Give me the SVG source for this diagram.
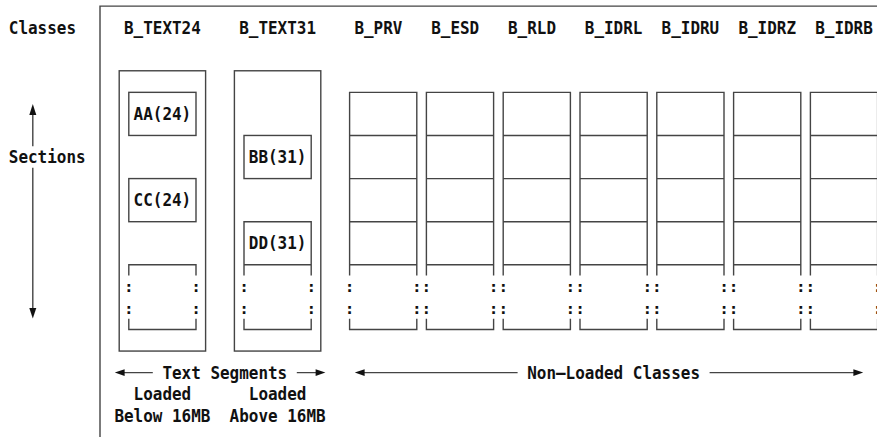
<svg xmlns="http://www.w3.org/2000/svg" width="877" height="437" viewBox="0 0 877 437">
<style>
.ln{fill:none;stroke:#444;stroke-width:1.4}
.t{font-family:"DejaVu Sans Mono","Liberation Mono",monospace;font-weight:bold;font-size:17px;fill:#111}
.c{font-family:"DejaVu Sans Mono","Liberation Mono",monospace;font-weight:bold;font-size:16px;fill:#111;text-anchor:middle}
.ah{fill:#111}
</style>
<rect width="877" height="437" fill="#fff"/>
<g id="frame">
<path class="ln" d="M100,437 V6.1 H877"/>
<text class="t" x="8.8" y="33.8" textLength="67.2" lengthAdjust="spacingAndGlyphs">Classes</text>
<text class="t" x="8.8" y="163.1" textLength="76.8" lengthAdjust="spacingAndGlyphs">Sections</text>
</g>
<g id="B_TEXT24">
<text class="t" x="124" y="33.8" textLength="76.8" lengthAdjust="spacingAndGlyphs">B_TEXT24</text>
<rect class="ln" x="119.2" y="70.78" width="86.4" height="280.28"/>
<g id="AA24"><rect class="ln" x="128.8" y="92.34" width="67.2" height="43.12"/><text class="t" x="133.6" y="120" textLength="57.6" lengthAdjust="spacingAndGlyphs">AA(24)</text></g>
<g id="CC24"><rect class="ln" x="128.8" y="178.58" width="67.2" height="43.12"/><text class="t" x="133.6" y="206.2" textLength="57.6" lengthAdjust="spacingAndGlyphs">CC(24)</text></g>
<path class="ln" d="M128.8,275.6 V264.82 H196 V275.6 M128.8,318.7 V329.5 H196 V318.7"/>
<text class="c" x="128.8" y="292.2">:</text><text class="c" x="196" y="292.2">:</text>
<text class="c" x="128.8" y="313.7">:</text><text class="c" x="196" y="313.7">:</text>
</g>
<g id="B_TEXT31">
<text class="t" x="239.2" y="33.8" textLength="76.8" lengthAdjust="spacingAndGlyphs">B_TEXT31</text>
<rect class="ln" x="234.4" y="70.78" width="86.4" height="280.28"/>
<g id="BB31"><rect class="ln" x="244" y="135.46" width="67.2" height="43.12"/><text class="t" x="248.8" y="163.1" textLength="57.6" lengthAdjust="spacingAndGlyphs">BB(31)</text></g>
<g id="DD31"><path class="ln" d="M244,275.6 V221.7 H311.2 V275.6 M244,264.82 H311.2"/><text class="t" x="248.8" y="249.4" textLength="57.6" lengthAdjust="spacingAndGlyphs">DD(31)</text></g>
<path class="ln" d="M244,318.7 V329.5 H311.2 V318.7"/>
<text class="c" x="244" y="292.2">:</text><text class="c" x="311.2" y="292.2">:</text>
<text class="c" x="244" y="313.7">:</text><text class="c" x="311.2" y="313.7">:</text>
</g>
<defs>
<g id="nl">
<path class="ln" d="M0,275.6 V92.34 H67.2 V275.6 M0,135.46 H67.2 M0,178.58 H67.2 M0,221.7 H67.2 M0,264.82 H67.2 M0,318.7 V329.5 H67.2 V318.7"/>
<text class="c" x="0" y="292.2">:</text><text class="c" x="67.2" y="292.2">:</text>
<text class="c" x="0" y="313.7">:</text><text class="c" x="67.2" y="313.7">:</text>
</g>
</defs>
<g id="B_PRV"><text class="t" x="354.4" y="33.8" textLength="48" lengthAdjust="spacingAndGlyphs">B_PRV</text><use href="#nl" x="349.6"/></g>
<g id="B_ESD"><text class="t" x="431.2" y="33.8" textLength="48" lengthAdjust="spacingAndGlyphs">B_ESD</text><use href="#nl" x="426.4"/></g>
<g id="B_RLD"><text class="t" x="508" y="33.8" textLength="48" lengthAdjust="spacingAndGlyphs">B_RLD</text><use href="#nl" x="503.2"/></g>
<g id="B_IDRL"><text class="t" x="584.8" y="33.8" textLength="57.6" lengthAdjust="spacingAndGlyphs">B_IDRL</text><use href="#nl" x="580"/></g>
<g id="B_IDRU"><text class="t" x="661.6" y="33.8" textLength="57.6" lengthAdjust="spacingAndGlyphs">B_IDRU</text><use href="#nl" x="656.8"/></g>
<g id="B_IDRZ"><text class="t" x="738.4" y="33.8" textLength="57.6" lengthAdjust="spacingAndGlyphs">B_IDRZ</text><use href="#nl" x="733.6"/></g>
<g id="B_IDRB"><text class="t" x="815.2" y="33.8" textLength="57.6" lengthAdjust="spacingAndGlyphs">B_IDRB</text><use href="#nl" x="810.4"/></g>
<g id="captions">
<text class="t" x="162.4" y="378.7" textLength="124.8" lengthAdjust="spacingAndGlyphs">Text Segments</text>
<text class="t" x="133.6" y="400.3" textLength="57.6" lengthAdjust="spacingAndGlyphs">Loaded</text>
<text class="t" x="248.8" y="400.3" textLength="57.6" lengthAdjust="spacingAndGlyphs">Loaded</text>
<text class="t" x="114.4" y="421.8" textLength="96" lengthAdjust="spacingAndGlyphs">Below 16MB</text>
<text class="t" x="229.6" y="421.8" textLength="96" lengthAdjust="spacingAndGlyphs">Above 16MB</text>
<text class="t" x="527.2" y="378.7" textLength="172.8" lengthAdjust="spacingAndGlyphs">Non—Loaded Classes</text>
</g>
<g id="connectors">
<path class="ln" d="M32.8,114 V146.3 M32.8,167.8 V309"/>
<polygon class="ah" points="32.8,104 29.3,115 36.3,115"/>
<polygon class="ah" points="29.3,308 36.3,308 32.8,318.5"/>
<path class="ln" d="M123,372.62 H152.8 M296.8,372.62 H317"/>
<polygon class="ah" points="114.8,372.62 124.6,369.2 124.6,376"/>
<polygon class="ah" points="325.4,372.62 315.6,369.2 315.6,376"/>
<path class="ln" d="M363,372.62 H517.6 M709.6,372.62 H855"/>
<polygon class="ah" points="354.8,372.62 364.6,369.2 364.6,376"/>
<polygon class="ah" points="863.2,372.62 853.4,369.2 853.4,376"/>
</g>
</svg>
